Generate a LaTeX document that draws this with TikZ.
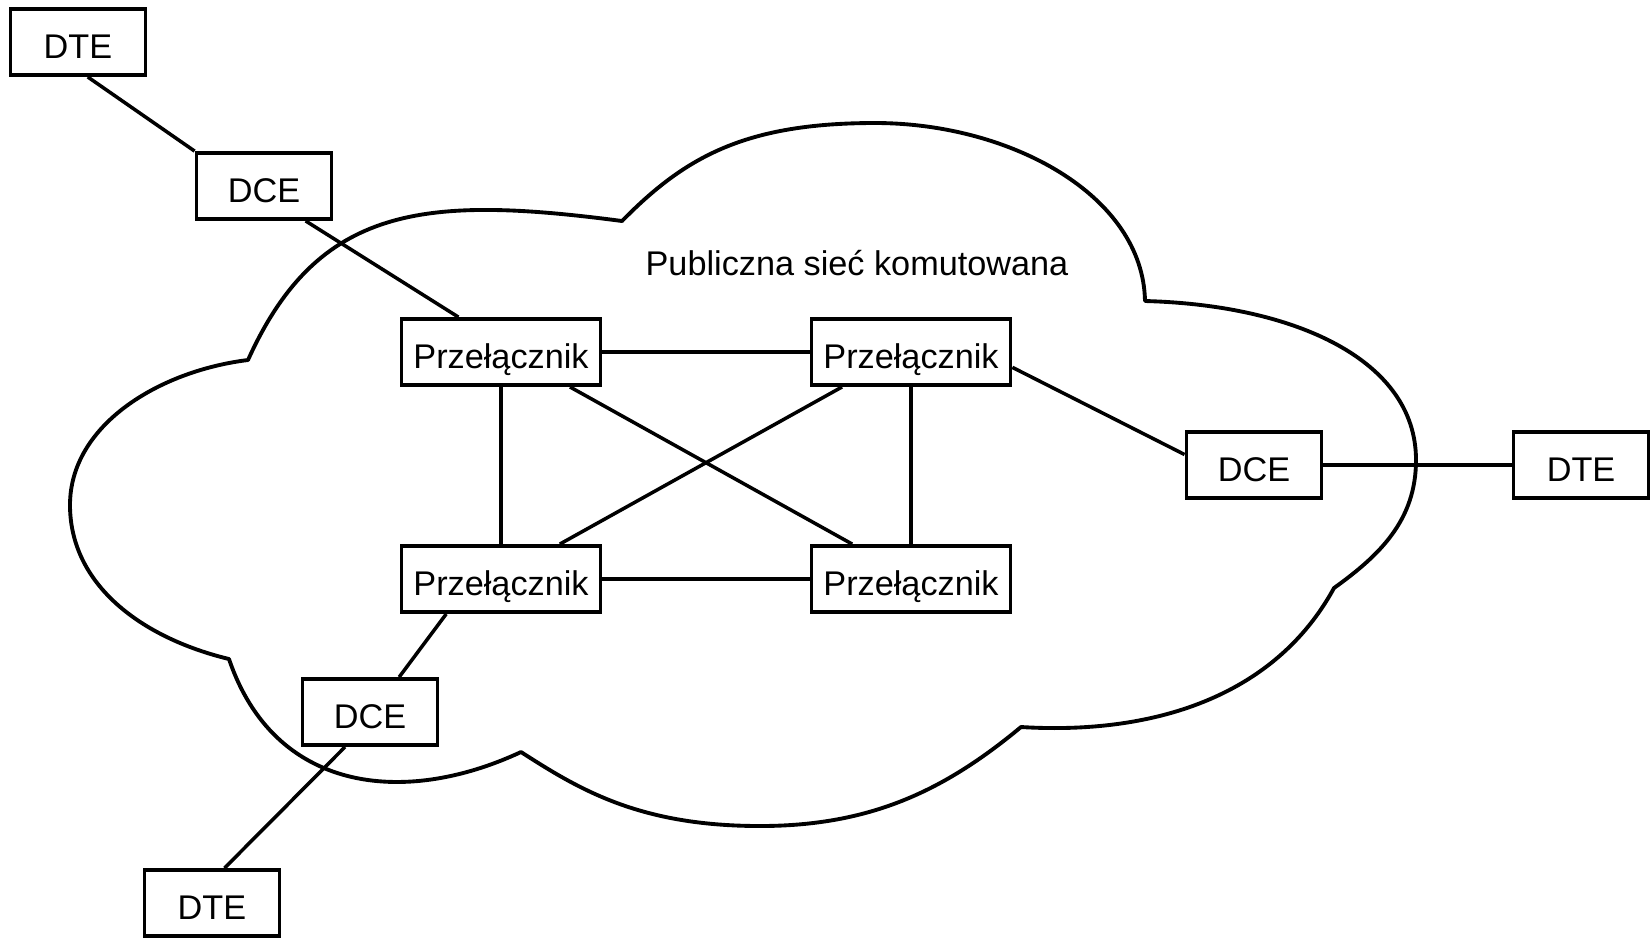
\documentclass[tikz,border=0pt]{standalone}
\usepackage{fontspec}
\setmainfont{Liberation Sans}
\usetikzlibrary{calc}

\begin{document}
\begin{tikzpicture}[x=0.02cm,y=-0.02cm,
		box/.style={draw=black,line width=2.2pt,fill=white,minimum width=2.7cm,minimum height=1.32cm,inner sep=0pt,text height=19.1pt,text depth=0pt,font=\fontsize{19.5}{23}\selectfont},
		switchbox/.style={box,minimum width=3.98cm},
		link/.style={black,line width=2pt},
		cloudline/.style={black,line width=2.2pt,line join=round}]
		\useasboundingbox (0,0) rectangle (1652,938);
		
		% Cloud
		\draw[cloudline] (248,360) .. controls (318,205) and (424,195) .. (622,221)
			.. controls (685,157) and (745,123) .. (875,123)
			.. controls (1010,123) and (1143,195) .. (1145,301)
			.. controls (1295,305) and (1416,360) .. (1416,460)
			.. controls (1416,520) and (1380,555) .. (1334,588)
			.. controls (1274,698) and (1151,735) .. (1021,727)
			.. controls (944,791) and (870,826) .. (760,826)
			.. controls (640,826) and (580,790) .. (521,752)
			.. controls (403,807) and (274,792) .. (229,659)
			.. controls (142,638) and (70,585) .. (70,505)
			.. controls (70,425) and (159,371) .. (248,360) -- cycle;
		\node[font=\fontsize{19.5}{23}\selectfont] (net) at (857,263) {Publiczna sieć komutowana};
		
		%% Switches
		\node[switchbox] (swNW) at (501,352) {Przełącznik};
		\node[switchbox] (swNE) at (911,352) {Przełącznik};
		\node[switchbox] (swSW) at (501,579) {Przełącznik};
		\node[switchbox] (swSE) at (911,579) {Przełącznik};
		
		%% Terminals
		\node[box] (dteNW) at (78,42) {DTE};
		\node[box] (dceNW) at (264,186) {DCE};
		\node[box] (dceE) at (1254,465) {DCE};
		\node[box] (dteE) at (1581,465) {DTE};
		\node[box] (dceS) at (370,712) {DCE};
		\node[box] (dteS) at (212,903) {DTE};
		
		%% Links
		\draw[link] ($(dteNW.south west)!0.57!(dteNW.south east)$) -- (dceNW.north west);
		\draw[link] ($(dceNW.south west)!0.8!(dceNW.south east)$) -- ($(swNW.north west)!0.29!(swNW.north east)$);
		\draw[link] (swNW.east) -- (swNE.west);
		\draw[link] (swNW.south) -- (swSW.north);
		\draw[link] (swNE.south) -- (swSE.north);
		\draw[link] ($(swNW.south west)!0.84!(swNW.south east)$) -- ($(swSE.north west)!0.21!(swSE.north east)$);
		\draw[link] ($(swNE.south west)!0.16!(swNE.south east)$) -- ($(swSW.north west)!0.79!(swSW.north east)$);
		\draw[link] (swSW.east) -- (swSE.west);
		\draw[link] ($(swNE.north east)!0.72!(swNE.south east)$) -- ($(dceE.north west)!0.35!(dceE.south west)$);
		\draw[link] (dceE.east) -- (dteE.west);
		\draw[link] ($(swSW.south west)!0.23!(swSW.south east)$) -- ($(dceS.north west)!0.71!(dceS.north east)$);
		\draw[link] ($(dceS.south west)!0.32!(dceS.south east)$) -- ($(dteS.north west)!0.59!(dteS.north east)$);
	\end{tikzpicture}
\end{document}
